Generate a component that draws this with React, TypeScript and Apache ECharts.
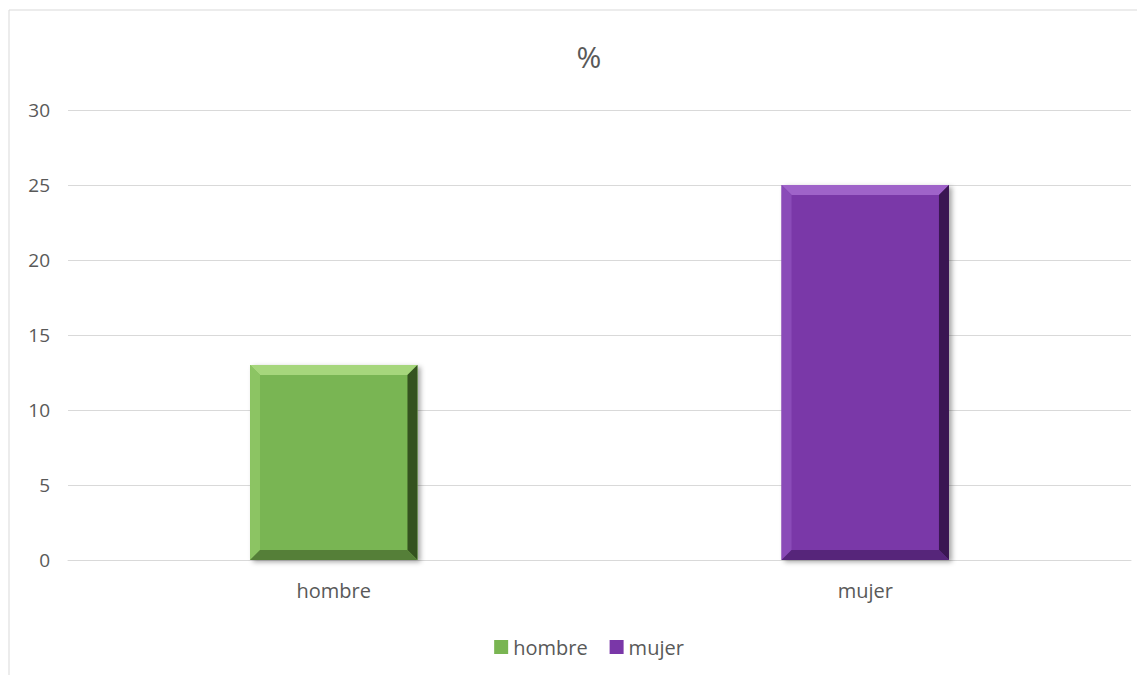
import React, { useEffect, useRef } from "react";
import * as echarts from "echarts";

const categories = ["hombre", "mujer"];
const values = [13, 25];
const yTicks = { min: 0, max: 30, interval: 5 };
const titleText = "%";

const palette = [
  { main: "#79b552", top: "#a6d67c", left: "#8cc463", right: "#34521f", bottom: "#557f38" },
  { main: "#7a37a8", top: "#9f63c9", left: "#8a4bb8", right: "#3a1652", bottom: "#56257a" },
];

export default function App() {
  const ref = useRef<HTMLDivElement>(null);
  useEffect(() => {
    if (!ref.current) return;
    const chart = echarts.init(ref.current, null, { renderer: "svg" });
    const font = "'Open Sans', sans-serif";
    const renderItem = (pi: number) => (params: any, api: any) => {
      const ci = api.value(0);
      const v = api.value(1);
      const top = api.coord([ci, v]);
      const base = api.coord([ci, 0]);
      const w = api.size([1, 0])[0] * 0.315;
      const x = top[0] - w / 2;
      const y = top[1];
      const h = base[1] - top[1];
      const b = 10;
      const c = palette[pi];
      return {
        type: "group",
        children: [
          {
            type: "rect",
            shape: { x, y, width: w, height: h },
            style: { fill: c.main, shadowBlur: 5, shadowColor: "rgba(0,0,0,0.35)", shadowOffsetX: 3, shadowOffsetY: 2 },
          },
          { type: "polygon", shape: { points: [[x, y], [x + w, y], [x + w - b, y + b], [x + b, y + b]] }, style: { fill: c.top } },
          { type: "polygon", shape: { points: [[x, y], [x + b, y + b], [x + b, y + h - b], [x, y + h]] }, style: { fill: c.left } },
          { type: "polygon", shape: { points: [[x + w, y], [x + w, y + h], [x + w - b, y + h - b], [x + w - b, y + b]] }, style: { fill: c.right } },
          { type: "polygon", shape: { points: [[x, y + h], [x + w, y + h], [x + w - b, y + h - b], [x + b, y + h - b]] }, style: { fill: c.bottom } },
        ],
      };
    };
    chart.setOption({
      animation: false,
      backgroundColor: "#ffffff",
      graphic: [
        {
          type: "rect",
          shape: { x: 1, y: 2, width: 1300, height: 800 },
          style: { fill: "none", stroke: "#d9d9d9", lineWidth: 1 },
          silent: true,
          z: -10,
        },
      ],
      title: {
        text: titleText,
        left: "center",
        top: 28,
        textStyle: { fontFamily: font, fontSize: 30, fontWeight: "normal", color: "#595959" },
      },
      legend: {
        data: categories,
        top: 624,
        left: "center",
        icon: "rect",
        itemWidth: 14,
        itemHeight: 14,
        itemGap: 22,
        textStyle: { fontFamily: font, fontSize: 20, color: "#595959" },
      },
      grid: { left: 60, right: 39, top: 102, bottom: 115 },
      xAxis: {
        type: "category",
        data: categories,
        axisLine: { show: true, lineStyle: { color: "#d9d9d9" } },
        axisTick: { show: false },
        axisLabel: { fontFamily: font, fontSize: 20, color: "#595959", margin: 20 },
      },
      yAxis: {
        type: "value",
        min: yTicks.min,
        max: yTicks.max,
        interval: yTicks.interval,
        axisLine: { show: false },
        axisTick: { show: false },
        splitLine: { lineStyle: { color: "#d9d9d9" } },
        axisLabel: { fontFamily: font, fontSize: 19, color: "#595959", margin: 18 },
      },
      series: categories.map((name, i) => ({
        name,
        type: "custom",
        itemStyle: { color: palette[i].main },
        encode: { x: 0, y: 1 },
        data: [[i, values[i]]],
        renderItem: renderItem(i),
      })),
    });
    return () => chart.dispose();
  }, []);
  return (
    <div style={{ width: 1137, height: 667, overflow: "hidden" }}>
      <div ref={ref} style={{ width: 1162, height: 667 }} />
    </div>
  );
}
